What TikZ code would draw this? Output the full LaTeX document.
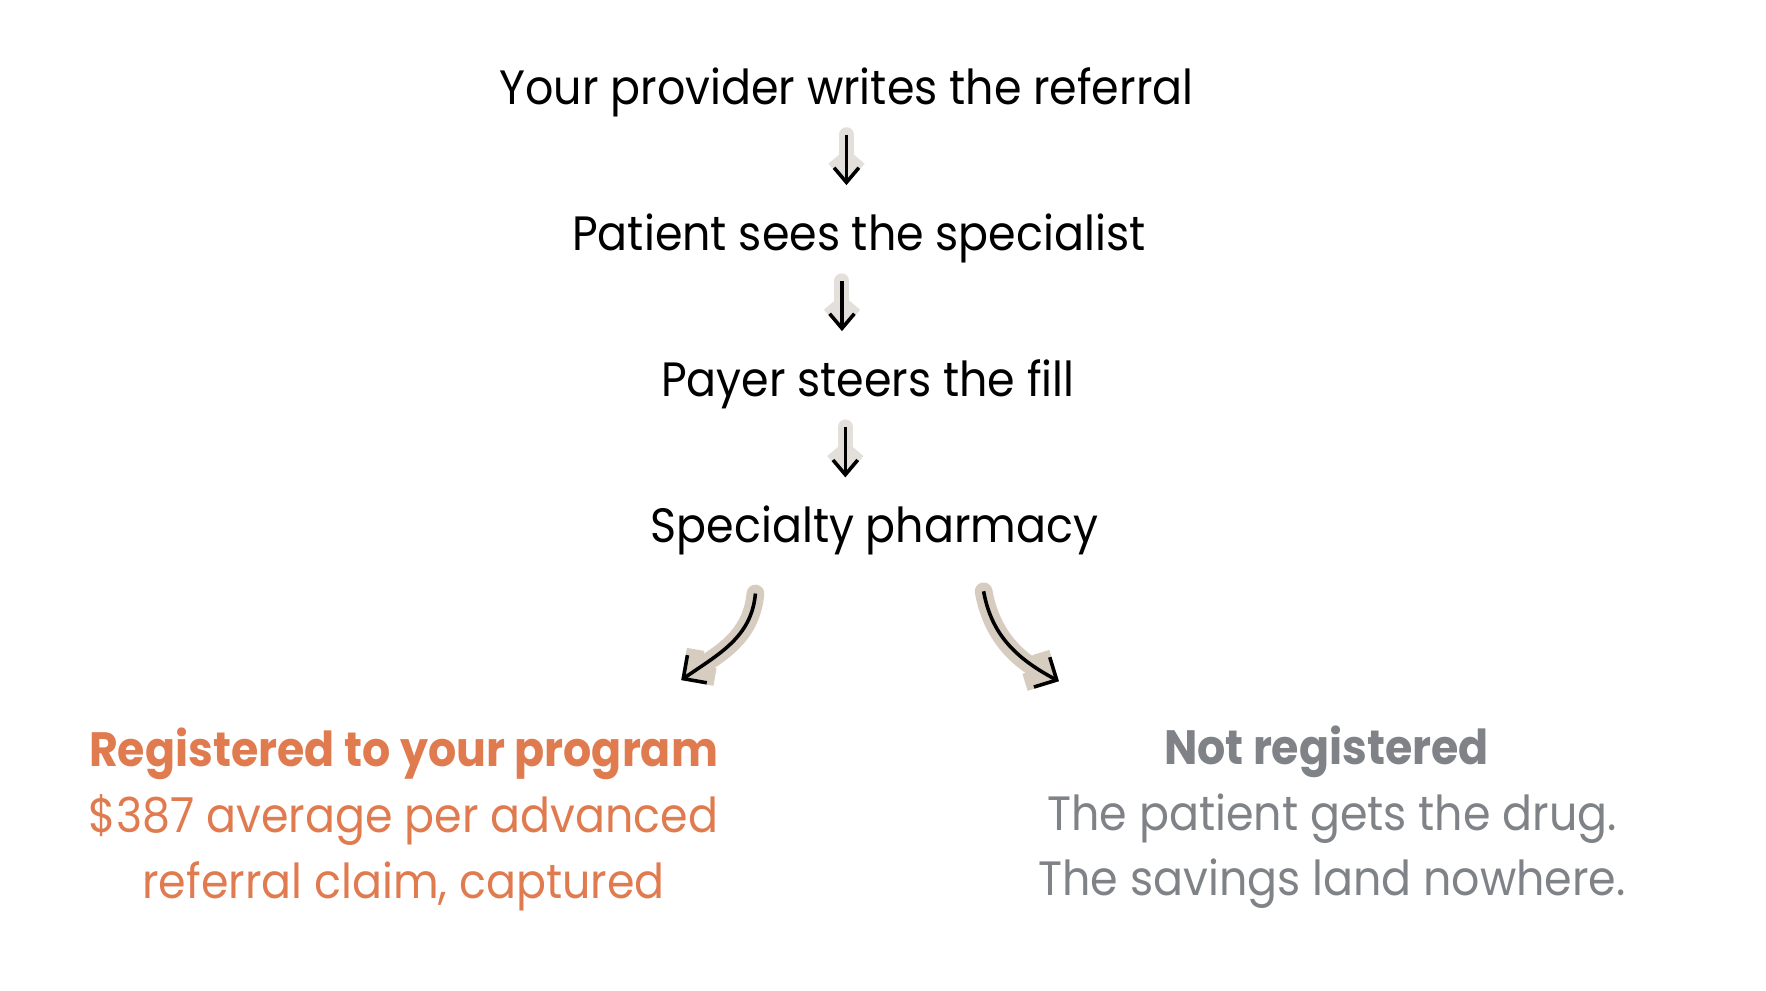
\documentclass[tikz,border=0pt]{standalone}
\usepackage{fontspec}
\setmainfont{Poppins}[FakeStretch=0.92]
\usepackage{xcolor}
\usetikzlibrary{arrows.meta,positioning,calc}
\definecolor{progorange}{HTML}{E07B50}
\definecolor{notgray}{HTML}{7F8387}
\definecolor{halogray}{HTML}{E3DFDB}
\definecolor{halobeige}{HTML}{D6CCBF}
\tikzset{
  stepnode/.style={anchor=base, inner sep=0pt, font=\fontsize{12.2}{15}\selectfont},
  regnode/.style={anchor=base, inner sep=0pt, text=progorange, font=\fontsize{12.2}{15}\selectfont},
  notnode/.style={anchor=base, inner sep=0pt, text=notgray, font=\fontsize{12.2}{15}\selectfont},
  downarrow/.style={-{Straight Barb[length=1.3mm 0, width=2.2mm 0]}, line width=0.9pt,
    preaction={draw=halogray, line width=3.8pt, line cap=round, line join=round}},
  bendarrow/.style={-{Straight Barb[length=1.5mm 0, width=3mm 0]}, line width=0.9pt,
    preaction={draw=halobeige, line width=4.5pt, line cap=round, line join=round}}
}
\begin{document}
\begin{tikzpicture}
\useasboundingbox (0,0) rectangle (15.71,-8.81);
% the chain
\node[stepnode] (referral) at (7.53,-0.93) {Your provider writes the referral};
\node[stepnode] (specialist) at (7.64,-2.23) {Patient sees the specialist};
\node[stepnode] (steer) at (7.72,-3.53) {Payer steers the fill};
\node[stepnode] (pharmacy) at (7.78,-4.83) {Specialty pharmacy};
\draw[downarrow] ([yshift=-0.15cm]referral.south) -- ([yshift=0.25cm]referral.south |- specialist.north);
\draw[downarrow] ([xshift=-0.15cm,yshift=-0.15cm]specialist.south) -- ([xshift=-0.15cm,yshift=0.25cm]specialist.south |- steer.north);
\draw[downarrow] ([xshift=-0.2cm,yshift=-0.15cm]steer.south) -- ([xshift=-0.2cm,yshift=0.25cm]steer.south |- pharmacy.north);
% branches
\node[regnode, font=\fontsize{12.2}{15}\selectfont\bfseries] (registered) at (3.59,-6.82) {Registered to your program};
\node[regnode] (regline) at (3.59,-7.41) {\$387 average per advanced};
\node[regnode] (regclaim) at (3.59,-7.99) {referral claim, captured};
\node[notnode, font=\fontsize{12.2}{15}\selectfont\bfseries] (notreg) at (11.80,-6.80) {Not registered};
\node[notnode] (notline) at (11.85,-7.39) {The patient gets the drug.};
\node[notnode] (notsave) at (11.85,-7.97) {The savings land nowhere.};
\coordinate (leftfrom) at ($(pharmacy.base)+(-1.06,-0.45)$);
\coordinate (leftto) at ($(pharmacy.base)+(-1.72,-1.22)$);
\coordinate (rightfrom) at ($(pharmacy.base)+(0.97,-0.43)$);
\coordinate (rightto) at ($(pharmacy.base)+(1.64,-1.23)$);
\draw[bendarrow] (leftfrom) to[out=-95,in=35] (leftto);
\draw[bendarrow] (rightfrom) to[out=-80,in=152] (rightto);
\end{tikzpicture}
\end{document}
